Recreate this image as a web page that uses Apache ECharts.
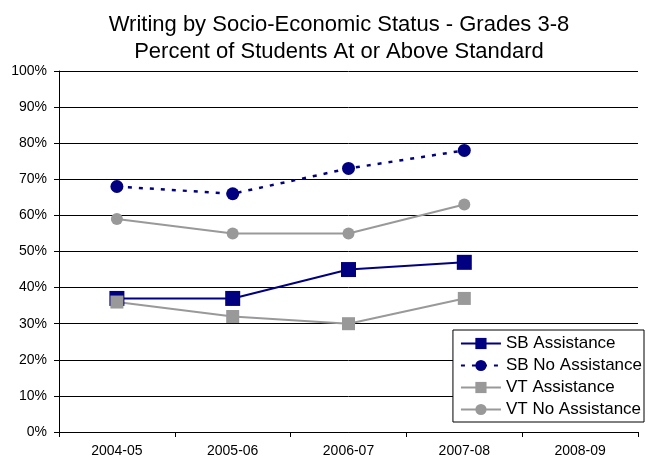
<!DOCTYPE html>
<html>
<head>
<meta charset="utf-8">
<script src="https://cdn.jsdelivr.net/npm/echarts@6/dist/echarts.min.js"></script>
<style>
  html, body { margin: 0; padding: 0; background: #fff; }
  #chart { width: 650px; height: 460px; }
</style>
</head>
<body>
<div id="chart"></div>
<script>
// 数据
const years = ['2004-05', '2005-06', '2006-07', '2007-08', '2008-09'];
const sbAssist = [37, 37, 45, 47, null];
const sbNoAssist = [68, 66, 73, 78, null];
const vtAssist = [36, 32, 30, 37, null];
const vtNoAssist = [59, 55, 55, 63, null];

const NAVY = '#000080';
const GREY = '#999999';
const FONT = 'Liberation Sans, Arial, sans-serif';

const chart = echarts.init(document.getElementById('chart'));
chart.setOption({
    backgroundColor: '#fff',
    textStyle: { fontFamily: FONT },
    title: {
        text: 'Writing by Socio-Economic Status - Grades 3-8\nPercent of Students At or Above Standard',
        left: 334,
        top: 6,
        textAlign: 'center',
        textStyle: { fontFamily: FONT, fontSize: 22, fontWeight: 'normal', color: '#000', lineHeight: 27 }
    },
    grid: { left: 59, right: 12, top: 71, bottom: 28 },
    legend: {
        orient: 'vertical',
        right: 6,
        top: 330,
        padding: [5, 2, 4, 7],
        itemWidth: 40,
        itemHeight: 14,
        itemGap: 5,
        backgroundColor: '#fff',
        borderColor: '#000',
        borderWidth: 1,
        borderRadius: 0,
        textStyle: { fontFamily: FONT, fontSize: 17, color: '#000' },
        data: ['SB Assistance', 'SB No Assistance', 'VT Assistance', 'VT No Assistance']
    },
    xAxis: {
        type: 'category',
        data: years,
        axisLine: { lineStyle: { color: '#000', width: 1 } },
        axisTick: { show: true, length: 5, lineStyle: { color: '#000' } },
        axisLabel: { color: '#000', fontSize: 14, margin: 12, fontFamily: FONT }
    },
    yAxis: {
        type: 'value',
        min: 0,
        max: 100,
        interval: 10,
        axisLine: { show: true, lineStyle: { color: '#000', width: 1 } },
        axisTick: { show: true, length: 5, lineStyle: { color: '#000' } },
        axisLabel: { color: '#000', fontSize: 14, margin: 12, formatter: '{value}%', fontFamily: FONT },
        splitLine: { lineStyle: { color: '#000', width: 1 } }
    },
    series: [
        {
            name: 'SB Assistance', type: 'line', data: sbAssist,
            symbol: 'rect', symbolSize: 15,
            itemStyle: { color: NAVY },
            lineStyle: { color: NAVY, width: 2 }
        },
        {
            name: 'SB No Assistance', type: 'line', data: sbNoAssist,
            symbol: 'circle', symbolSize: 13,
            itemStyle: { color: NAVY },
            lineStyle: { color: NAVY, width: 2.5, type: [4, 7] }
        },
        {
            name: 'VT Assistance', type: 'line', data: vtAssist,
            symbol: 'rect', symbolSize: 13,
            itemStyle: { color: GREY },
            lineStyle: { color: GREY, width: 2 }
        },
        {
            name: 'VT No Assistance', type: 'line', data: vtNoAssist,
            symbol: 'circle', symbolSize: 12,
            itemStyle: { color: GREY },
            lineStyle: { color: GREY, width: 2 }
        }
    ]
});
</script>
</body>
</html>
